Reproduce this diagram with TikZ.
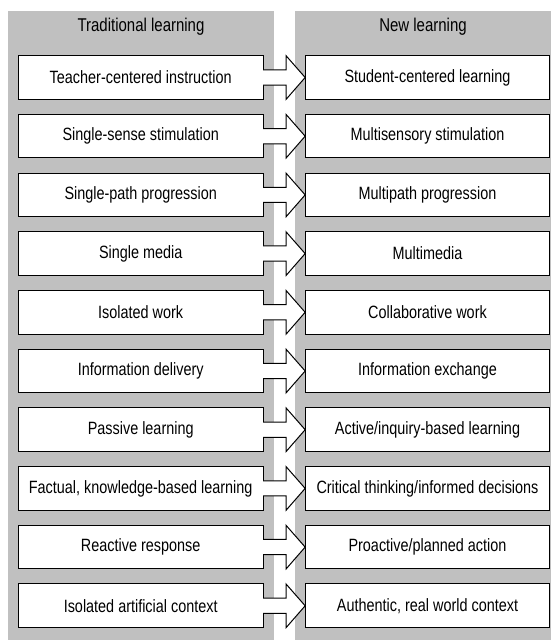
\documentclass[tikz,border=0pt]{standalone}
\usepackage{fontspec}
\setmainfont{Liberation Sans}[FakeStretch=0.81]
\usetikzlibrary{calc}

\definecolor{panelgray}{RGB}{192,192,192}

\begin{document}
\begin{tikzpicture}[x=1pt, y=1pt]
        \tikzset{
            panel/.style={fill=panelgray, draw=none},
            title/.style={font=\fontsize{18.5}{20}\selectfont, inner sep=0pt},
            item/.style={draw, fill=white, line width=1pt, inner sep=0pt, outer sep=0pt,
                         minimum width=244.7pt, minimum height=43.6pt,
                         font=\fontsize{17.8}{19}\selectfont},
            flow/.style={draw, fill=white, line width=1pt, line join=miter}
        }

        \useasboundingbox (0,0) rectangle (551,640);
        \fill[panel] (8,0) rectangle (274,629);
        \fill[panel] (295,0) rectangle (551,629);

        \node[title] (Told) at (141,613) {Traditional learning};
        \node[title] (Tnew) at (423,613) {New learning};

        % old way
        \node[item] (L1)  at (140.7,562.5) {Teacher-centered instruction};
        \node[item] (L2)  at (140.7,503.8) {Single-sense stimulation};
        \node[item] (L3)  at (140.7,445.1) {Single-path progression};
        \node[item] (L4)  at (140.7,386.4) {Single media};
        \node[item] (L5)  at (140.7,327.7) {Isolated work};
        \node[item] (L6)  at (140.7,269.0) {Information delivery};
        \node[item] (L7)  at (140.7,210.3) {Passive learning};
        \node[item] (L8)  at (140.7,151.6) {Factual, knowledge-based learning};
        \node[item] (L9)  at (140.7,92.9)  {Reactive response};
        \node[item] (L10) at (140.7,34.2)  {Isolated artificial context};

        % new way
        \node[item] (R1)  at (427.5,562.5) {Student-centered learning};
        \node[item] (R2)  at (427.5,503.8) {Multisensory stimulation};
        \node[item] (R3)  at (427.5,445.1) {Multipath progression};
        \node[item] (R4)  at (427.5,386.4) {Multimedia};
        \node[item] (R5)  at (427.5,327.7) {Collaborative work};
        \node[item] (R6)  at (427.5,269.0) {Information exchange};
        \node[item] (R7)  at (427.5,210.3) {Active/inquiry-based learning};
        \node[item] (R8)  at (427.5,151.6) {Critical thinking/informed decisions};
        \node[item] (R9)  at (427.5,92.9)  {Proactive/planned action};
        \node[item] (R10) at (427.5,34.2)  {Authentic, real world context};

        \draw[flow] ($(L1.east)+(0,7.6)$) -- ++(23,0) -- ++(0,14.2) -- (R1.west) -- ++(-19,-21.8) -- ++(0,14.2) -- ($(L1.east)+(0,-7.6)$);
        \draw[flow] ($(L2.east)+(0,7.6)$) -- ++(23,0) -- ++(0,14.2) -- (R2.west) -- ++(-19,-21.8) -- ++(0,14.2) -- ($(L2.east)+(0,-7.6)$);
        \draw[flow] ($(L3.east)+(0,7.6)$) -- ++(23,0) -- ++(0,14.2) -- (R3.west) -- ++(-19,-21.8) -- ++(0,14.2) -- ($(L3.east)+(0,-7.6)$);
        \draw[flow] ($(L4.east)+(0,7.6)$) -- ++(23,0) -- ++(0,14.2) -- (R4.west) -- ++(-19,-21.8) -- ++(0,14.2) -- ($(L4.east)+(0,-7.6)$);
        \draw[flow] ($(L5.east)+(0,7.6)$) -- ++(23,0) -- ++(0,14.2) -- (R5.west) -- ++(-19,-21.8) -- ++(0,14.2) -- ($(L5.east)+(0,-7.6)$);
        \draw[flow] ($(L6.east)+(0,7.6)$) -- ++(23,0) -- ++(0,14.2) -- (R6.west) -- ++(-19,-21.8) -- ++(0,14.2) -- ($(L6.east)+(0,-7.6)$);
        \draw[flow] ($(L7.east)+(0,7.6)$) -- ++(23,0) -- ++(0,14.2) -- (R7.west) -- ++(-19,-21.8) -- ++(0,14.2) -- ($(L7.east)+(0,-7.6)$);
        \draw[flow] ($(L8.east)+(0,7.6)$) -- ++(23,0) -- ++(0,14.2) -- (R8.west) -- ++(-19,-21.8) -- ++(0,14.2) -- ($(L8.east)+(0,-7.6)$);
        \draw[flow] ($(L9.east)+(0,7.6)$) -- ++(23,0) -- ++(0,14.2) -- (R9.west) -- ++(-19,-21.8) -- ++(0,14.2) -- ($(L9.east)+(0,-7.6)$);
        \draw[flow] ($(L10.east)+(0,7.6)$) -- ++(23,0) -- ++(0,14.2) -- (R10.west) -- ++(-19,-21.8) -- ++(0,14.2) -- ($(L10.east)+(0,-7.6)$);
\end{tikzpicture}
\end{document}
